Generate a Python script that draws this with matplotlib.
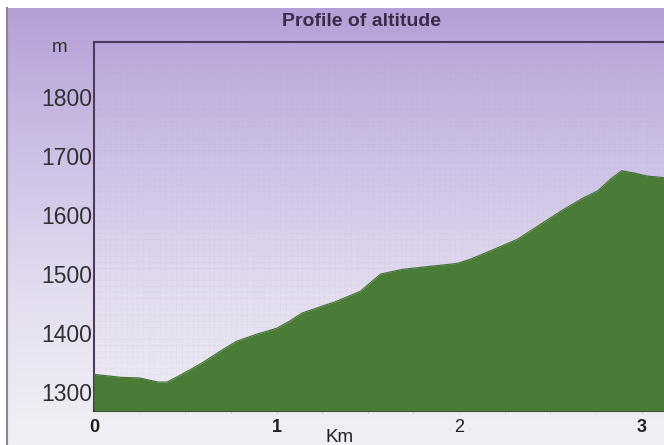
import numpy as np
import matplotlib.pyplot as plt
from matplotlib.colors import LinearSegmentedColormap
from matplotlib.ticker import MultipleLocator

### profile
dist_km = [0.0, 0.15, 0.25, 0.35, 0.40, 0.48, 0.59, 0.70, 0.78, 0.89, 1.00,
           1.07, 1.14, 1.33, 1.46, 1.57, 1.69, 1.84, 1.99, 2.06, 2.17, 2.32,
           2.43, 2.56, 2.68, 2.76, 2.83, 2.89, 2.96, 3.03, 3.13]
alt_m = [1330, 1325, 1324, 1317, 1317, 1330, 1349, 1371, 1386, 1398, 1408,
         1420, 1434, 1454, 1471, 1500, 1508, 1513, 1518, 1525, 1539, 1559,
         1581, 1607, 1629, 1641, 1661, 1675, 1671, 1666, 1663]

x_ticks = [0, 1, 2, 3]
y_ticks = [1300, 1400, 1500, 1600, 1700, 1800]

YMIN, YMAX = 1268, 1893
XMIN, XMAX = 0, 3.126

fig = plt.figure(figsize=(6.64, 4.45), dpi=100)
fig.patch.set_facecolor('white')

# gradient background (purple on top, almost white at the bottom)
bg = fig.add_axes([7/664, 0, 1 - 7/664, 1 - 8/445])
bg.set_axis_off()
grad = np.linspace(0, 1, 256).reshape(-1, 1)
cmap = LinearSegmentedColormap.from_list('bg', ['#b59fd6', '#cdc0e6', '#e4def0', '#f2f0f6'])
bg.imshow(grad, aspect='auto', cmap=cmap, extent=[0, 1, 0, 1], origin='upper')
bg.set_xlim(0, 1)
bg.set_ylim(0, 1)

# outer left border
fig.add_artist(plt.Line2D([7/664, 7/664], [0, 1 - 8/445], color='#8a8a8a', lw=1.5))

ax = fig.add_axes([94/664, 1 - 411/445, 1 - 94/664 + 0.001, (411 - 42)/445])
ax.set_facecolor('none')

# fine dotted texture grid
ax.yaxis.set_minor_locator(MultipleLocator(10))
ax.xaxis.set_minor_locator(MultipleLocator(0.03))
ax.grid(which='minor', color='#a89fbc', lw=0.5, ls=(0, (1, 2)), alpha=0.25)
ax.set_axisbelow(True)

ax.fill_between(dist_km, alt_m, YMIN, color='#4a7c38', lw=0, zorder=3)
ax.plot(dist_km, alt_m, color='#3f6e30', lw=0.8, zorder=4)

ax.set_xlim(XMIN, XMAX)
ax.set_ylim(YMIN, YMAX)

for side in ['left', 'top']:
    ax.spines[side].set_color('#4b3c5e')
    ax.spines[side].set_linewidth(1.5)
ax.spines['bottom'].set_color('#2a3322')
ax.spines['bottom'].set_linewidth(1.5)
ax.spines['right'].set_visible(False)

ax.set_yticks(y_ticks)
ax.set_yticklabels([str(v) for v in y_ticks], fontsize=16.5, color='#303030',
                   family='Liberation Sans')
ax.tick_params(axis='y', which='both', length=0, pad=1)
ax.set_xticks(x_ticks)
ax.set_xticklabels([str(v) for v in x_ticks], fontsize=13, color='#202020',
                   family='Liberation Sans', fontweight='bold')
ax.get_xticklabels()[2].set_fontweight('normal')
ax.tick_params(axis='x', which='major', length=0, pad=6)
ax.tick_params(axis='x', which='minor', length=0)

# faint minor tick marks below the axis
for xm in np.arange(0.25, 3.1, 0.25):
    ax.plot([xm, xm], [YMIN, YMIN - 4], color='#cccccc', lw=0.7, clip_on=False)

fig.text(362/664, 1 - 22/445, 'Profile of altitude', ha='center', va='center',
         fontsize=14, fontweight='bold', color='#3a2c48', family='Liberation Sans')
fig.text(60/664, 1 - 47/445, 'm', ha='center', va='center', fontsize=13.5,
         color='#303030', family='Liberation Sans')
fig.text(340/664, 1 - 437/445, 'Km', ha='center', va='center', fontsize=13.5,
         color='#202020', family='Liberation Sans')

fig.savefig('out.png', dpi=100)
